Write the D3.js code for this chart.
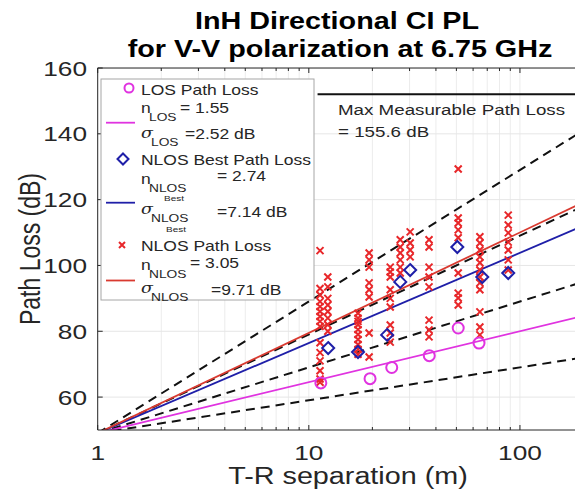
<!DOCTYPE html>
<html>
<head>
<meta charset="utf-8">
<script src="https://cdn.jsdelivr.net/npm/d3@7"></script>
<style>
  body { margin: 0; background: #fff; }
  text { font-family: "Liberation Sans", Arial, sans-serif; fill: #262626; }
</style>
</head>
<body>
<div class="chartContainer"></div>
<script>
// fitted CI model parameters
var fsplDb = 49.03;
var nLOS = 1.55, nBest = 2.74, nNLOS = 3.05;
var dashExponents = [1, 2, 3, 4];
var maxPL = 152;

// LOS measurements
var losDist = [11.4, 19.5, 24.7, 37.2, 51, 64];
var losPL = [64.3, 65.6, 69.0, 72.6, 81.0, 76.4];

// NLOS best-direction measurements
var bestDist = [12.35, 17.1, 23.5, 27.1, 30.2, 50.5, 66.3, 88];
var bestPL = [74.9, 73.7, 78.9, 95.0, 98.6, 105.6, 96.5, 97.7];

// NLOS measurements, one column per T-R separation
var nlosDist = [11.3, 12.3, 17.1, 19.3, 24.3, 27.1, 30.2, 37.1, 51, 64.6, 88];
var nlosPL = [
    [104.5, 93, 91, 89, 87.5, 86, 84.5, 83, 81.5, 76.5, 73.5, 71, 68, 65.5, 64.5],
    [96.5, 93.5, 90, 88, 86, 84, 82, 80],
    [85.5, 84, 83, 82, 80.5, 79, 77.5, 76, 74.5, 73],
    [103.8, 101.7, 99.5, 94.7, 92.6, 90.4, 79.5, 72.2],
    [99.5, 98, 96.5, 92.6, 90, 87.4, 81.9, 79.5, 76.7],
    [107.8, 105.6, 103.8, 101.7, 99.5, 97.7],
    [110.2, 106.8, 104.7, 102.6],
    [107.8, 105.6, 99.5, 96.5, 93.5, 83.4, 80.4, 78.3],
    [129.3, 114.4, 112.9, 110.8, 108.4, 97.7, 91.6, 90.1, 88.0],
    [108.7, 106.8, 104.7, 102.6, 100.8, 98.6, 96.5, 94.7, 92.6, 85.9, 81.3, 78.9],
    [115.3, 112.3, 109.9, 107.1, 104.7, 101.7, 98.6]
];

var xTickLabels = [1, 10, 100];
var yTickValues = [60, 80, 100, 120, 140, 160];

var w = 575, h = 494;
var S = 1.25; // the figure is stretched horizontally
var pLeft = 97.7, pRight = 583.5, pTop = 68, pBottom = 430;
var magenta = "#e033e0", blue = "#1f1fa8", red = "#d93a30", xred = "#e8272a";

var x = d3.scaleLog().domain([1, 200]).range([pLeft, pRight]);
var y = d3.scaleLinear().domain([50, 160]).range([pBottom, pTop]);

var svg = d3.select(".chartContainer")
    .append("svg")
    .attr("width", w)
    .attr("height", h);

function label(parent, px, py, str, size, anchor, weight) {
    return parent.append("text")
        .attr("transform", "translate(" + px + "," + py + ") scale(" + S + ",1)")
        .attr("text-anchor", anchor || "start")
        .attr("font-size", size)
        .attr("font-weight", weight || "normal")
        .text(str);
}

svg.append("clipPath").attr("id", "plotClip")
    .append("rect")
    .attr("x", pLeft).attr("y", pTop)
    .attr("width", pRight - pLeft).attr("height", pBottom - pTop);

var plot = svg.append("g").attr("clip-path", "url(#plotClip)");

// grid
var xGrid = x.ticks();
plot.selectAll(".xgrid").data(xGrid).enter().append("line")
    .attr("x1", function (d) { return x(d); })
    .attr("x2", function (d) { return x(d); })
    .attr("y1", pTop).attr("y2", pBottom)
    .attr("stroke", "#ececec").attr("stroke-width", 1);
plot.selectAll(".ygrid").data(yTickValues).enter().append("line")
    .attr("x1", pLeft).attr("x2", pRight)
    .attr("y1", function (d) { return y(d); })
    .attr("y2", function (d) { return y(d); })
    .attr("stroke", "#e6e6e6").attr("stroke-width", 1);

// CI reference lines
var line = d3.line()
    .x(function (d) { return x(d[0]); })
    .y(function (d) { return y(d[1]); });
function ciLine(n) {
    return [1, 200].map(function (d) { return [d, fsplDb + 10 * n * Math.log10(d)]; });
}

plot.selectAll(".dash").data(dashExponents).enter().append("path")
    .attr("d", function (n) { return line(ciLine(n)); })
    .attr("fill", "none").attr("stroke", "#111")
    .attr("stroke-width", 2).attr("stroke-dasharray", "9,6");

// max measurable path loss
plot.append("path")
    .attr("d", line([[11, maxPL], [200, maxPL]]))
    .attr("stroke", "#111").attr("stroke-width", 2);

// fit lines
[[nLOS, magenta], [nBest, blue], [nNLOS, red]].forEach(function (f) {
    plot.append("path")
        .attr("d", line(ciLine(f[0])))
        .attr("fill", "none").attr("stroke", f[1]).attr("stroke-width", 1.8);
});

// NLOS x marks
var nlosPoints = [];
nlosDist.forEach(function (d, i) {
    nlosPL[i].forEach(function (v) { nlosPoints.push([d, v]); });
});
function xMark(g, px, py, r, color) {
    g.append("path")
        .attr("d", "M" + (px - r) + "," + (py - r) + "L" + (px + r) + "," + (py + r) +
            "M" + (px - r) + "," + (py + r) + "L" + (px + r) + "," + (py - r))
        .attr("stroke", color).attr("stroke-width", 2);
}
nlosPoints.forEach(function (p) { xMark(plot, x(p[0]), y(p[1]), 3.5, xred); });

// LOS circles
plot.selectAll(".los").data(losDist).enter().append("circle")
    .attr("cx", function (d) { return x(d); })
    .attr("cy", function (d, i) { return y(losPL[i]); })
    .attr("r", 5.5)
    .attr("fill", "none").attr("stroke", magenta).attr("stroke-width", 2);

// NLOS best diamonds
function diamond(px, py, r) {
    return "M" + px + "," + (py - r) + "L" + (px + r) + "," + py +
        "L" + px + "," + (py + r) + "L" + (px - r) + "," + py + "Z";
}
plot.selectAll(".best").data(bestDist).enter().append("path")
    .attr("d", function (d, i) { return diamond(x(d), y(bestPL[i]), 6); })
    .attr("fill", "none").attr("stroke", blue).attr("stroke-width", 2);

// axes box and ticks
var axisColor = "#262626";
svg.append("line").attr("x1", pLeft).attr("x2", pRight).attr("y1", pBottom).attr("y2", pBottom)
    .attr("stroke", axisColor);
svg.append("line").attr("x1", pLeft).attr("x2", pRight).attr("y1", pTop).attr("y2", pTop)
    .attr("stroke", axisColor);
svg.append("line").attr("x1", pLeft).attr("x2", pLeft).attr("y1", pTop).attr("y2", pBottom)
    .attr("stroke", axisColor);

xGrid.forEach(function (d) {
    var len = xTickLabels.indexOf(d) >= 0 ? 5 : 3;
    svg.append("line").attr("x1", x(d)).attr("x2", x(d))
        .attr("y1", pBottom).attr("y2", pBottom - len).attr("stroke", axisColor);
    svg.append("line").attr("x1", x(d)).attr("x2", x(d))
        .attr("y1", pTop).attr("y2", pTop + len).attr("stroke", axisColor);
});
yTickValues.forEach(function (v) {
    svg.append("line").attr("x1", pLeft).attr("x2", pLeft + 5)
        .attr("y1", y(v)).attr("y2", y(v)).attr("stroke", axisColor);
    label(svg, 87, y(v) + 7.5, v, 21, "end");
});
xTickLabels.forEach(function (d) {
    label(svg, x(d), 460, d, 21, "middle");
});

// axis titles
label(svg, 348, 484, "T-R separation (m)", 23, "middle");
svg.append("text")
    .attr("transform", "translate(40,249) scale(" + S + ",1) rotate(-90)")
    .attr("text-anchor", "middle").attr("font-size", 23)
    .text("Path Loss (dB)");

// title
label(svg, 337, 29, "InH Directional CI PL", 23, "middle", "bold").style("fill", "#000");
label(svg, 340, 57, "for V-V polarization at 6.75 GHz", 23, "middle", "bold").style("fill", "#000");

// annotation
label(svg, 338, 115, "Max Measurable Path Loss", 15);
label(svg, 338, 137, "= 155.6 dB", 15);

// legend
var lg = svg.append("g");
lg.append("rect").attr("x", 101).attr("y", 79).attr("width", 213).attr("height", 221)
    .attr("fill", "#fff").attr("stroke", "#a6a6a6").attr("stroke-width", 1);

function sigma(px, py) {
    return label(lg, px, py, "σ", 14).style("font-family", "'DejaVu Serif', serif").style("font-style", "italic");
}
function legLine(py, color) {
    lg.append("line").attr("x1", 106).attr("x2", 135).attr("y1", py).attr("y2", py)
        .attr("stroke", color).attr("stroke-width", 1.8);
}

lg.append("circle").attr("cx", 129).attr("cy", 88).attr("r", 4.5)
    .attr("fill", "none").attr("stroke", magenta).attr("stroke-width", 2);
label(lg, 141, 95, "LOS Path Loss", 14);
label(lg, 141, 113, "n", 14);
label(lg, 149, 121, "LOS", 11);
label(lg, 180, 113, "= 1.55", 14);
legLine(122.7, magenta);
sigma(141, 138);
label(lg, 151, 146, "LOS", 11);
label(lg, 185, 139, "=2.52 dB", 14);

lg.append("path").attr("d", diamond(123, 159, 5.5))
    .attr("fill", "none").attr("stroke", blue).attr("stroke-width", 2);
label(lg, 141, 165, "NLOS Best Path Loss", 14);
label(lg, 141, 184, "n", 14);
label(lg, 149, 192, "NLOS", 11);
label(lg, 164, 201, "Best", 8);
label(lg, 217, 181, "= 2.74", 14);
legLine(202.7, blue);
sigma(141, 214);
label(lg, 151, 222, "NLOS", 11);
label(lg, 166, 232, "Best", 8);
label(lg, 217, 217, "=7.14 dB", 14);

xMark(lg, 122, 245, 3, xred);
label(lg, 141, 251, "NLOS Path Loss", 14);
label(lg, 141, 270, "n", 14);
label(lg, 149, 278, "NLOS", 11);
label(lg, 190, 268, "= 3.05", 14);
legLine(280.5, red);
sigma(141, 293);
label(lg, 151, 301, "NLOS", 11);
label(lg, 211, 295, "=9.71 dB", 14);
</script>
</body>
</html>
